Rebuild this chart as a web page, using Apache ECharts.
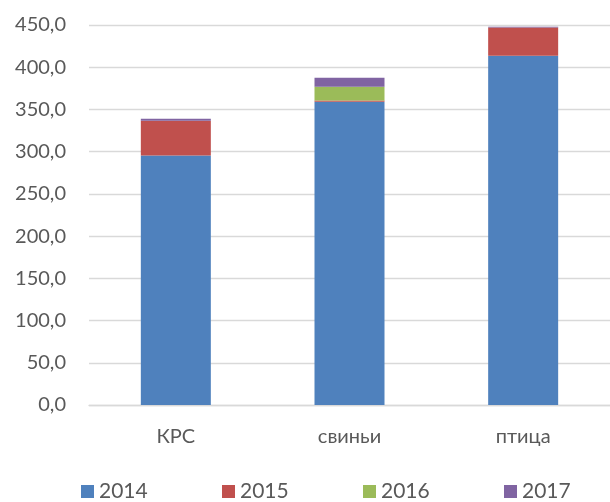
<!DOCTYPE html>
<html><head><meta charset="utf-8">
<script src="https://cdn.jsdelivr.net/npm/echarts@6/dist/echarts.min.js"></script>
<style>html,body{margin:0;padding:0;background:#fff}#c{width:610px;height:502px}</style>
</head><body><div id="c"></div>
<script>
const categories = ['КРС', 'свиньи', 'птица'];
const seriesNames = ['2014', '2015', '2016', '2017'];
const v2014 = [295.5, 359.0, 413.5];
const v2015 = [41.0, 1.5, 33.5];
const v2016 = [-1.5, 16.5, -1.5];
const v2017 = [2.5, 10.5, 1.0];
const colors = ['#4F81BD', '#C0504D', '#9BBB59', '#8064A2'];
const values = [v2014, v2015, v2016, v2017];
const legendLeft = [81, 222, 363, 504];
const font = 'Lato, "Open Sans", sans-serif';
const chart = echarts.init(document.getElementById('c'));
chart.setOption({
  animation: false,
  grid: {left: 89, right: -9, top: 25, bottom: 97},
  legend: seriesNames.map((n, i) => ({
    left: legendLeft[i], top: 479, itemWidth: 13, itemHeight: 13, itemGap: 6,
    icon: 'rect', padding: [2, 0, 2, 0],
    textStyle: {fontFamily: font, fontSize: 21, color: '#595959'},
    data: [n]
  })),
  xAxis: {
    type: 'category', data: categories,
    axisLine: {lineStyle: {color: '#D9D9D9', width: 1.3}},
    axisTick: {show: false},
    axisLabel: {fontFamily: font, fontSize: 20, color: '#595959', margin: 22}
  },
  yAxis: {
    type: 'value', min: 0, max: 450, interval: 50,
    axisLine: {show: false}, axisTick: {show: false},
    splitLine: {lineStyle: {color: '#D9D9D9', width: 1.3}},
    axisLabel: {fontFamily: font, fontSize: 20, color: '#595959', margin: 23,
      formatter: v => v.toFixed(1).replace('.', ',')}
  },
  series: seriesNames.map((n, i) => ({
    name: n, type: 'bar', stack: 'total', barWidth: 70, z: 3,
    itemStyle: {color: colors[i]},
    data: values[i]
  }))
});
</script></body></html>
